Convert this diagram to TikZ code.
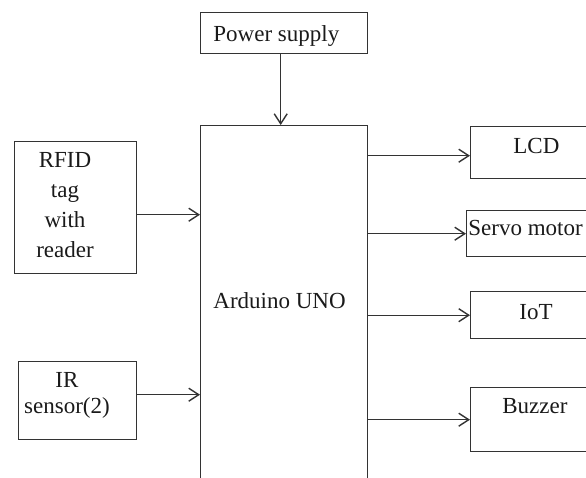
\documentclass[tikz,border=0pt]{standalone}
\usepackage{fontspec}
\setmainfont{Liberation Serif}
\usepackage{tikz}
\usetikzlibrary{arrows.meta}
\definecolor{ink}{HTML}{333333}
\definecolor{txtc}{HTML}{1A1A1A}
\tikzset{
  blk/.style={draw=ink, line width=0.7pt, anchor=north west, inner sep=0pt},
  arr/.style={draw=ink, line width=0.7pt, -{Straight Barb[length=5pt,width=6.5pt,line width=0.7pt]}},
  lab/.style={text=txtc, font=\fontsize{11.5}{15}\selectfont, inner sep=0pt},
}
\begin{document}
\begin{tikzpicture}[x=0.5pt,y=-0.5pt]
  \path[use as bounding box, clip] (0,0) rectangle (586,478);
  \node[blk, minimum width=83.5pt, minimum height=20.5pt] (pwr) at (200,12) {};
  \node[blk, minimum width=83.5pt, minimum height=200pt] (ard) at (200,125) {};
  \node[blk, minimum width=61pt, minimum height=66pt] (rfid) at (14,141) {};
  \node[blk, minimum width=59pt, minimum height=39pt] (ir) at (18,361) {};
  \node[blk, minimum width=70pt, minimum height=26pt] (lcd) at (470,126) {};
  \node[blk, minimum width=72pt, minimum height=23pt] (servo) at (466,210) {};
  \node[blk, minimum width=70pt, minimum height=23.5pt] (iot) at (470,291) {};
  \node[blk, minimum width=70pt, minimum height=32pt] (buz) at (470,387) {};
  \node[lab, anchor=base west] (pwrtxt) at (213,41) {Power supply};
  \node[lab, anchor=base west] (ardtxt) at (213,308) {Arduino UNO};
  \node[lab, anchor=north, align=center] (rfidtxt) at (65,152) {RFID\\tag\\with\\reader};
  \node[lab, anchor=north, align=center, font=\fontsize{11.5}{13}\selectfont] (irtxt) at (67,372) {IR\\sensor(2)};
  \node[lab, anchor=base west] (lcdtxt) at (513,153) {LCD};
  \node[lab, anchor=base west] (servotxt) at (468,235) {Servo motor};
  \node[lab, anchor=base west] (iottxt) at (519,319) {IoT};
  \node[lab, anchor=base west] (buztxt) at (502,413) {Buzzer};
  \draw[arr] ([xshift=-1.75pt]pwr.south) -- ([xshift=-1.75pt]pwr.south |- ard.north);
  \draw[arr] ([yshift=-3.5pt]rfid.east) -- ([yshift=-3.5pt]rfid.east -| ard.west);
  \draw[arr] ([yshift=3pt]ir.east) -- ([yshift=3pt]ir.east -| ard.west);
  \draw[arr] ([yshift=-1.5pt]lcd.west -| ard.east) -- ([yshift=-1.5pt]lcd.west);
  \draw[arr] (servo.west -| ard.east) -- (servo.west);
  \draw[arr] (iot.west -| ard.east) -- (iot.west);
  \draw[arr] (buz.west -| ard.east) -- (buz.west);
\end{tikzpicture}
\end{document}
